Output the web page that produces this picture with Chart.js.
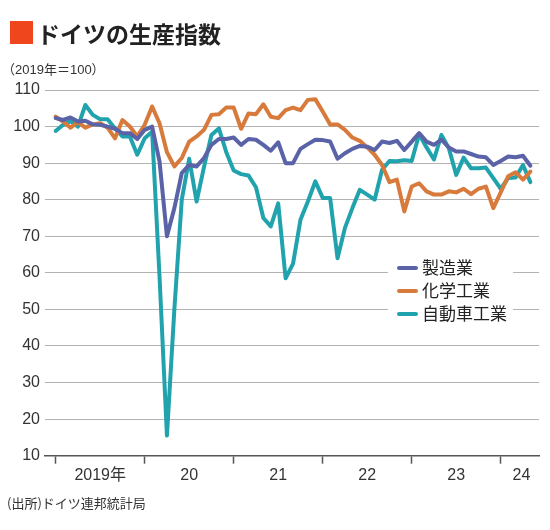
<!DOCTYPE html>
<html>
<head>
<meta charset="utf-8">
<script src="https://cdn.jsdelivr.net/npm/chart.js@4.4.1/dist/chart.umd.min.js"></script>
<style>
  body { margin: 0; background: #fff; }
  #wrap { position: relative; width: 550px; height: 530px; overflow: hidden;
    font-family: "Liberation Sans", "Noto Sans CJK JP", sans-serif; color: #333; }
  #chart { position: absolute; left: 0; top: 0; }
  .mark { position: absolute; left: 10px; top: 21px; width: 23px; height: 23px; background: #f0461e; }
  .title { position: absolute; left: 37px; top: 17px; line-height: 32px; font-size: 23px;
    font-weight: bold; color: #222; font-family: "Noto Sans CJK JP", sans-serif; }
  .unit { position: absolute; left: 2px; top: 61px; line-height: 18px; font-size: 13px; }
  .source { position: absolute; left: 7px; top: 494px; line-height: 18px; font-size: 13px;
    font-family: "Noto Sans CJK JP", sans-serif; }
  #legend { position: absolute; left: 388px; top: 254px; width: 125px; height: 70px; background: #fff; }
  .item { position: absolute; left: 9px; height: 23px; line-height: 23px; font-size: 17px;
    font-family: "Noto Sans CJK JP", sans-serif; color: #222; }
  .item i { display: inline-block; width: 21px; height: 4px; border-radius: 2px;
    vertical-align: middle; margin-right: 4px; position: relative; top: -1px; }
</style>
</head>
<body>
<div id="wrap">
  <canvas id="chart" width="550" height="530"></canvas>
  <div class="mark"></div>
  <div class="title">ドイツの生産指数</div>
  <div class="unit">（2019年＝100）</div>
  <div class="source">(出所)ドイツ連邦統計局</div>
  <div id="legend"></div>
</div>
<script>
// monthly index, Jan 2019 .. May 2024 (2019 = 100)
const seriesNames = ["製造業", "化学工業", "自動車工業"];
const seriesColors = ["#5a62a8", "#d77a3b", "#21a3ae"];

const manufacturing = [
  102.3, 101.8, 102.5, 101.4, 101.6, 100.6, 100.5, 100.0, 99.4, 98.2, 98.2, 96.6,
  99.1, 100.0, 90.5, 70.0, 77.7, 87.3, 89.5, 89.1, 91.4, 95.0, 96.6, 96.6,
  97.0, 95.0, 96.6, 96.4, 95.0, 93.4, 95.7, 90.0, 90.0, 93.9, 95.2, 96.4,
  96.3, 95.9, 91.2, 92.7, 93.9, 94.7, 94.5, 93.6, 95.9, 95.5, 96.1, 93.6,
  95.9, 98.2, 95.9, 95.0, 96.4, 94.3, 93.2, 93.2, 92.5, 91.8, 91.6, 89.5,
  90.6, 91.8, 91.6, 92.0, 89.3
];
const chemicals = [
  102.7, 101.4, 99.7, 101.2, 99.7, 100.6, 100.9, 99.7, 96.8, 101.8, 100.0, 97.3,
  100.5, 105.5, 100.9, 93.0, 89.1, 91.4, 95.9, 97.3, 99.1, 103.2, 103.4, 105.2,
  105.2, 99.4, 103.6, 103.4, 106.1, 102.7, 102.3, 104.5, 105.2, 104.5, 107.3, 107.5,
  104.1, 100.6, 100.6, 99.1, 97.0, 96.1, 94.3, 92.3, 89.5, 84.8, 85.5, 76.8,
  83.6, 84.5, 82.3, 81.4, 81.4, 82.3, 82.0, 83.0, 81.5, 83.0, 83.6, 77.7,
  82.0, 86.4, 87.5, 85.5, 87.7
];
const automotive = [
  98.8, 100.5, 101.5, 100.0, 105.9, 103.2, 102.0, 102.0, 99.5, 97.3, 97.3, 92.3,
  96.8, 98.6, 59.0, 15.5, 50.0, 80.0, 91.2, 79.5, 89.0, 97.7, 99.5, 93.0,
  88.0, 87.0, 86.6, 83.4, 75.0, 72.7, 79.0, 58.5, 62.5, 74.5, 79.5, 85.0,
  80.5, 80.5, 64.0, 72.3, 77.7, 82.7, 81.4, 80.0, 88.2, 90.6, 90.5, 90.8,
  90.6, 97.9, 94.3, 91.0, 97.7, 94.1, 86.8, 91.5, 88.6, 88.6, 88.8, 85.9,
  83.0, 85.9, 86.1, 89.5, 84.8
];

// year boundaries (month index) and where each year label sits
const yearTicks = [0, 12, 24, 36, 48, 60];
const yearLabels = ["2019年", "20", "21", "22", "23", "24"];
const yearLabelPos = [6, 18, 30, 42, 54, 62.8];

const months = manufacturing.map((v, i) => i);
const allSeries = [manufacturing, chemicals, automotive];

const datasets = allSeries.map((vals, k) => ({
  label: seriesNames[k],
  data: months.map((m, i) => ({ x: m, y: vals[i] })),
  borderColor: seriesColors[k],
  borderWidth: 4,
  pointRadius: 0,
  tension: 0,
  borderJoinStyle: "round",
  borderCapStyle: "round",
  fill: false
}));

const legend = document.getElementById("legend");
seriesNames.forEach((name, k) => {
  const d = document.createElement("div");
  d.className = "item";
  d.style.top = (1 + k * 23) + "px";
  d.innerHTML = '<i style="background:' + seriesColors[k] + '"></i>' + name;
  legend.appendChild(d);
});

const tickFont = { family: "'Liberation Sans', 'Noto Sans CJK JP', sans-serif", size: 16 };

new Chart(document.getElementById("chart"), {
  type: "line",
  data: { datasets: datasets },
  options: {
    responsive: false,
    animation: false,
    layout: { padding: { top: 90, right: 11, left: 0, bottom: 0 } },
    plugins: { legend: { display: false }, tooltip: { enabled: false } },
    scales: {
      x: {
        type: "linear",
        min: -1.44,
        max: 65.16,
        afterBuildTicks: (scale) => {
          scale.ticks = yearTicks.concat(yearLabelPos).map((v) => ({ value: v }));
        },
        afterFit: (scale) => { scale.height = 74.3; },
        grid: {
          drawOnChartArea: false,
          drawTicks: true,
          tickLength: 8,
          tickWidth: 1.5,
          tickColor: (ctx) => (ctx.tick && yearTicks.includes(ctx.tick.value) ? "#555" : "rgba(0,0,0,0)")
        },
        border: { display: true, color: "#555", width: 1.5 },
        ticks: {
          autoSkip: false,
          maxRotation: 0,
          padding: 2,
          color: "#333",
          font: tickFont,
          callback: (v) => {
            const j = yearLabelPos.indexOf(v);
            return j >= 0 ? yearLabels[j] : "";
          }
        }
      },
      y: {
        min: 10,
        max: 110,
        afterFit: (scale) => { scale.width = 45; },
        ticks: { stepSize: 10, padding: 5, color: "#333", font: tickFont },
        grid: { color: "#b3b3b3", lineWidth: 1, drawTicks: false },
        border: { display: false }
      }
    }
  }
});
</script>
</body>
</html>
